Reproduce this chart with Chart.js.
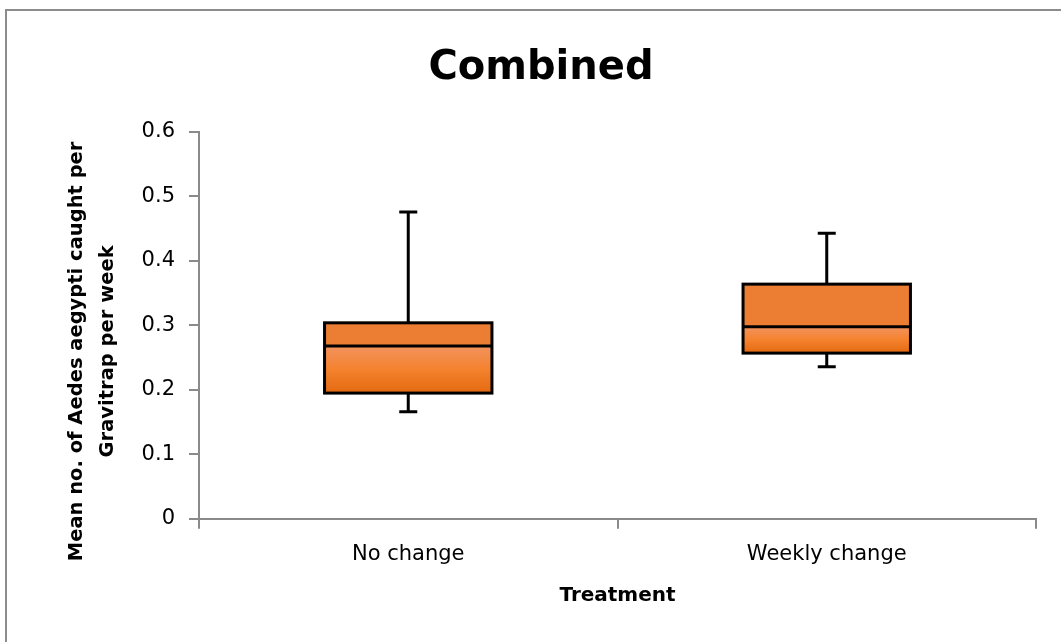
<!DOCTYPE html>
<html>
<head>
<meta charset="utf-8">
<script src="https://cdn.jsdelivr.net/npm/chart.js@4.4.1/dist/chart.umd.min.js"></script>
<style>
  body { margin: 0; background: #fff; }
  #wrap { width: 1061px; height: 642px; }
</style>
</head>
<body>
<div id="wrap"><canvas id="boxChart"></canvas></div>
<script>
// Box plot values
const categories = ['No change', 'Weekly change'];
const whiskerLow = [0.166, 0.236];
const quartile1 = [0.195, 0.257];
const medians = [0.268, 0.298];
const quartile3 = [0.304, 0.364];
const whiskerHigh = [0.476, 0.443];
const yTicks = [0, 0.1, 0.2, 0.3, 0.4, 0.5, 0.6];
const yTitleLines = ['Mean no. of Aedes aegypti caught per', 'Gravitrap per week'];

const fontName = '"DejaVu Sans", "Liberation Sans", sans-serif';
const axisGray = '#8a8a8a';

// lower half of the box gets a light-to-dark gradient
function lowerFill(context) {
  const chart = context.chart;
  if (!chart.chartArea || context.type !== 'data') return '#F08030';
  const y = chart.scales.y;
  const i = context.dataIndex;
  const top = y.getPixelForValue(medians[i]);
  const bottom = y.getPixelForValue(quartile1[i]);
  const g = chart.ctx.createLinearGradient(0, top, 0, bottom);
  g.addColorStop(0, '#F2935E');
  g.addColorStop(0.5, '#F5822E');
  g.addColorStop(1, '#E36910');
  return g;
}

// whiskers, caps, box outline and median line
const boxPlugin = {
  id: 'boxOutline',
  beforeDatasetsDraw(chart) {
    const ctx = chart.ctx;
    const y = chart.scales.y;
    const meta = chart.getDatasetMeta(0);
    ctx.save();
    ctx.strokeStyle = '#000';
    ctx.lineWidth = 3;
    meta.data.forEach((bar, i) => {
      const x = bar.x;
      const pairs = [[quartile3[i], whiskerHigh[i]], [quartile1[i], whiskerLow[i]]];
      pairs.forEach(([from, to]) => {
        const y1 = y.getPixelForValue(from);
        const y2 = y.getPixelForValue(to);
        ctx.beginPath();
        ctx.moveTo(x, y1);
        ctx.lineTo(x, y2);
        ctx.moveTo(x - 9, y2);
        ctx.lineTo(x + 9, y2);
        ctx.stroke();
      });
    });
    ctx.restore();
  },
  afterDatasetsDraw(chart) {
    const ctx = chart.ctx;
    const y = chart.scales.y;
    const meta = chart.getDatasetMeta(0);
    ctx.save();
    ctx.strokeStyle = '#000';
    ctx.lineWidth = 3;
    meta.data.forEach((bar, i) => {
      const left = bar.x - bar.width / 2;
      const top = y.getPixelForValue(quartile3[i]);
      const bottom = y.getPixelForValue(quartile1[i]);
      const mid = y.getPixelForValue(medians[i]);
      ctx.strokeRect(left, top, bar.width, bottom - top);
      ctx.beginPath();
      ctx.moveTo(left, mid);
      ctx.lineTo(left + bar.width, mid);
      ctx.stroke();
    });
    ctx.restore();
  }
};

// gray frame and the two-line y title
const framePlugin = {
  id: 'frame',
  afterDraw(chart) {
    const ctx = chart.ctx;
    ctx.save();
    ctx.strokeStyle = '#8c8c8c';
    ctx.lineWidth = 2;
    ctx.beginPath();
    ctx.moveTo(6, chart.height);
    ctx.lineTo(6, 10);
    ctx.lineTo(chart.width, 10);
    ctx.stroke();

    const area = chart.chartArea;
    const cy = (area.top + area.bottom) / 2 + 26;
    ctx.translate(0, cy);
    ctx.rotate(-Math.PI / 2);
    ctx.fillStyle = '#000';
    ctx.font = 'bold 19.5px ' + fontName;
    ctx.textAlign = 'center';
    ctx.textBaseline = 'middle';
    ctx.fillText(yTitleLines[0], 0, 77);
    ctx.fillText(yTitleLines[1], 0, 108);
    ctx.restore();
  }
};

const chart = new Chart(document.getElementById('boxChart'), {
  type: 'bar',
  data: {
    labels: categories,
    datasets: [
      {
        label: 'Lower box',
        data: categories.map((c, i) => [quartile1[i], medians[i]]),
        backgroundColor: lowerFill,
        borderWidth: 0,
        grouped: false,
        barPercentage: 0.4,
        categoryPercentage: 1
      },
      {
        label: 'Upper box',
        data: categories.map((c, i) => [medians[i], quartile3[i]]),
        backgroundColor: '#EC7E33',
        borderWidth: 0,
        grouped: false,
        barPercentage: 0.4,
        categoryPercentage: 1
      }
    ]
  },
  options: {
    responsive: true,
    maintainAspectRatio: false,
    animation: false,
    layout: { padding: { left: 46, right: 25, top: 0, bottom: 30 } },
    plugins: {
      legend: { display: false },
      tooltip: { enabled: false },
      title: {
        display: true,
        text: 'Combined',
        color: '#000',
        font: { family: fontName, size: 40, weight: 'bold' },
        padding: { top: 45, bottom: 39 }
      }
    },
    scales: {
      x: {
        offset: true,
        grid: { offset: true, drawOnChartArea: false, color: axisGray, lineWidth: 2, tickLength: 10 },
        border: { color: axisGray, width: 2 },
        ticks: { color: '#000', font: { family: fontName, size: 21 }, padding: 13 },
        title: {
          display: true,
          text: 'Treatment',
          color: '#000',
          font: { family: fontName, size: 20, weight: 'bold' },
          padding: { top: 4 }
        }
      },
      y: {
        min: 0,
        max: 0.6,
        afterBuildTicks(axis) {
          axis.ticks = yTicks.map(v => ({ value: v }));
        },
        // room for the hand-drawn two-line title on the left
        afterFit(axis) {
          axis.width = 153;
        },
        grid: { drawOnChartArea: false, color: axisGray, lineWidth: 2, tickLength: 10 },
        border: { color: axisGray, width: 2 },
        ticks: {
          color: '#000',
          font: { family: fontName, size: 21 },
          padding: 14,
          callback: v => String(Math.round(v * 10) / 10)
        }
      }
    }
  },
  plugins: [boxPlugin, framePlugin]
});
</script>
</body>
</html>
